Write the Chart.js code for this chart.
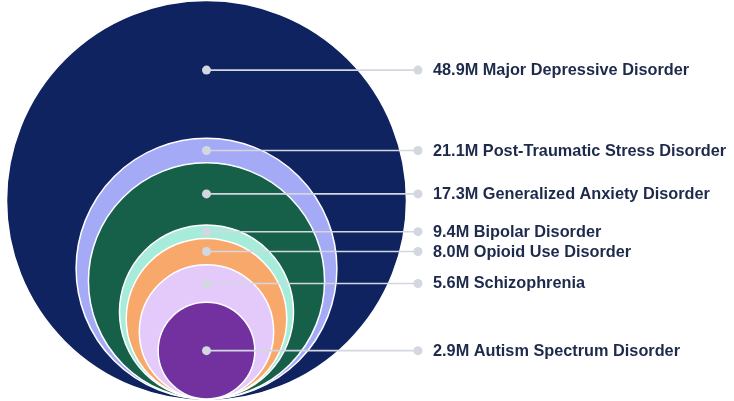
<!DOCTYPE html>
<html>
<head>
<meta charset="utf-8">
<script src="https://cdn.jsdelivr.net/npm/chart.js@4/dist/chart.umd.min.js"></script>
<style>
  html, body { margin: 0; padding: 0; background: #ffffff; }
  #wrap { width: 734px; height: 401px; position: relative; }
</style>
</head>
<body>
<div id="wrap"><canvas id="chart"></canvas></div>
<script>
// ---- data ----
const categories = [
  'Major Depressive Disorder',
  'Post-Traumatic Stress Disorder',
  'Generalized Anxiety Disorder',
  'Bipolar Disorder',
  'Opioid Use Disorder',
  'Schizophrenia',
  'Autism Spectrum Disorder'
];
const valuesMillions = [48.9, 21.1, 17.3, 9.4, 8.0, 5.6, 2.9];
const valueLabels = ['48.9M', '21.1M', '17.3M', '9.4M', '8.0M', '5.6M', '2.9M'];

// ---- styling ----
const fillColors = ['#0f2360', '#a4aaf6', '#166049', '#a7ebdb', '#f9a86c', '#e4c9fb', '#7331a0'];
const leaderColor = '#d3d7df';
const textColor = '#1d2a4c';

// circle radius is proportional to sqrt(value) (area encodes value); circles share a common baseline
const radii = valuesMillions.map(v => Math.sqrt(v));
const yMax = 2 * radii[0];
// leader-dot height: middle of each visible ring (centre for the innermost circle)
const dotY = radii.map((r, i) => i < radii.length - 1 ? (2 * r + 2 * radii[i + 1]) / 2 : r);

// layout constants (pixels)
const W = 734, H = 401;
const PAD_T = 2, PAD_B = 2;
const CENTER_PX = 206.5;     // horizontal centre of the circles
const LEADER_END_PX = 418;   // x of the right-hand leader dot
const TEXT_GAP = 15;

const UNIT = (H - PAD_T - PAD_B) / yMax;          // pixels per data unit (same on both axes)
const X_MIN = -CENTER_PX / UNIT;
const X_MAX = X_MIN + W / UNIT;
const leaderEnd = (LEADER_END_PX - CENTER_PX) / UNIT;

const bubbleData = radii.map(r => ({ x: 0, y: r, r: r * UNIT }));

const labelPlugin = {
  id: 'labels',
  afterDatasetsDraw(chart) {
    const { ctx } = chart;
    const xs = chart.scales.x, ys = chart.scales.y;
    ctx.save();
    ctx.font = 'bold 16.3px "Liberation Sans", Arial, Helvetica, sans-serif';
    ctx.fillStyle = textColor;
    ctx.textBaseline = 'middle';
    ctx.textAlign = 'left';
    categories.forEach((c, i) => {
      const px = xs.getPixelForValue(leaderEnd) + TEXT_GAP;
      const py = ys.getPixelForValue(dotY[i]) + 0.5;
      ctx.fillText(valueLabels[i] + ' ' + c, px, py);
    });
    ctx.restore();
  }
};

function fixRange(lo, hi) {
  return scale => { scale.min = lo; scale.max = hi; };
}

new Chart(document.getElementById('chart'), {
  data: {
    datasets: [
      {
        type: 'bubble',
        order: 3,
        data: bubbleData,
        backgroundColor: fillColors,
        borderColor: fillColors.map((c, i) => i === 0 ? c : '#ffffff'),
        borderWidth: 1.5,
        clip: false
      },
      ...dotY.map(y => ({
        type: 'line',
        order: 2,
        data: [{ x: 0, y: y }, { x: leaderEnd, y: y }],
        borderColor: leaderColor,
        borderWidth: 1.6,
        pointRadius: 4.5,
        pointBackgroundColor: leaderColor,
        pointBorderWidth: 0,
        fill: false,
        clip: false
      }))
    ]
  },
  options: {
    responsive: true,
    maintainAspectRatio: false,
    animation: false,
    events: [],
    layout: { autoPadding: false, padding: { top: PAD_T, bottom: PAD_B, left: 0, right: 0 } },
    plugins: { legend: { display: false }, tooltip: { enabled: false } },
    scales: {
      y: {
        type: 'linear', display: false, min: 0, max: yMax,
        afterDataLimits: fixRange(0, yMax), afterBuildTicks: fixRange(0, yMax)
      },
      x: {
        type: 'linear', display: false, min: X_MIN, max: X_MAX,
        afterDataLimits: fixRange(X_MIN, X_MAX), afterBuildTicks: fixRange(X_MIN, X_MAX)
      }
    }
  },
  plugins: [labelPlugin]
});
</script>
</body>
</html>
